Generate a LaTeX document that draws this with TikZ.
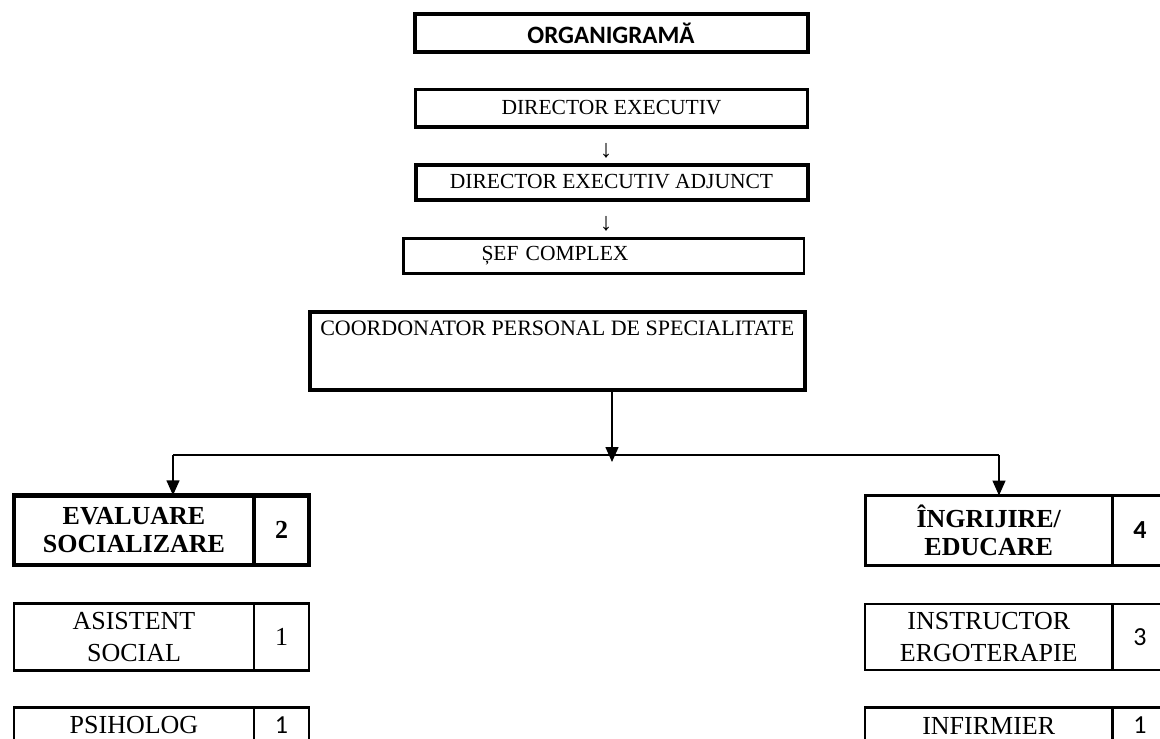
\documentclass[tikz,border=0pt]{standalone}
\usepackage{fontspec}
\setmainfont{Liberation Serif}
\newfontfamily\calibri{Carlito}
\usepackage{tikz}
\usetikzlibrary{arrows.meta}

\begin{document}
\begin{tikzpicture}[x=1pt,y=-1pt,
  box/.style={draw,rectangle,outer sep=0pt,inner sep=0pt,align=center},
  topbox/.style={box,font=\fontsize{21.5}{26}\selectfont},
  unitbox/.style={box,line width=2.5pt,font=\fontsize{26}{32}\selectfont},
  headbox/.style={unitbox,font=\bfseries\fontsize{26}{27.5}\selectfont},
  numbox/.style={unitbox,minimum width=55pt,anchor=west},
  sansnum/.style={font=\calibri\fontsize{26}{32}\selectfont},
  down/.style={font=\fontsize{25}{26}\selectfont},
  link/.style={line width=1.5pt,-{Triangle[width=13pt,length=15pt]}}]
\useasboundingbox (0,0) rectangle (1160,739);

% top of the chart
\node[topbox,line width=4pt,minimum width=393pt,minimum height=37.5pt,font=\calibri\bfseries\fontsize{25}{28}\selectfont] (org) at (611,33) {ORGANIGRAMĂ};
\node[topbox,line width=3.5pt,minimum width=392pt,minimum height=37.5pt] (dir) at (611.5,108) {DIRECTOR EXECUTIV};
\node[down] (down1) at (606,151) {↓};
\node[topbox,line width=4pt,minimum width=392pt,minimum height=35pt] (adj) at (611.5,182) {DIRECTOR EXECUTIV ADJUNCT};
\node[down] (down2) at (606,224) {↓};
\node[topbox,line width=2.5pt,minimum width=400.5pt,minimum height=35pt,text width=400.5pt,align=left] (sef) at (603.75,256) {\hspace*{78pt}ȘEF COMPLEX};
\node[topbox,line width=4pt,minimum width=495.5pt,text height=23pt,text depth=54.5pt,anchor=north,font=\fontsize{22}{26}\selectfont] (coord) at (557.25,312) {COORDONATOR PERSONAL DE SPECIALITATE};

% left column
\node[headbox,line width=4.5pt,minimum width=240pt,minimum height=69.5pt] (eval) at (134,530) {EVALUARE\\SOCIALIZARE};
\node[numbox,line width=4.5pt,minimum height=69.5pt,font=\bfseries\fontsize{26}{32}\selectfont] (evaln) at (eval.east) {2};
\node[unitbox,minimum width=240pt,minimum height=67pt] (asist) at (134,637) {ASISTENT\\SOCIAL};
\node[numbox,minimum height=67pt] (asistn) at (asist.east) {1};
\node[unitbox,minimum width=240pt,minimum height=36pt] (psih) at (134,725.5) {PSIHOLOG};
\node[numbox,sansnum,minimum height=36pt] (psihn) at (psih.east) {1};

% right column
\node[headbox,line width=3pt,minimum width=247.5pt,minimum height=70pt] (ingr) at (988.75,530.5) {ÎNGRIJIRE/\\EDUCARE};
\node[numbox,line width=3pt,minimum height=70pt,font=\calibri\bfseries\fontsize{26}{32}\selectfont] (ingrn) at (ingr.east) {4};
\node[unitbox,minimum width=247.5pt,minimum height=66pt] (instr) at (988.75,637) {INSTRUCTOR\\ERGOTERAPIE};
\node[numbox,sansnum,minimum height=66pt] (instrn) at (instr.east) {3};
\node[unitbox,minimum width=247.5pt,minimum height=36pt] (infirm) at (988.75,725.5) {INFIRMIER};
\node[numbox,sansnum,minimum height=36pt] (infirmn) at (infirm.east) {1};

% connectors
\coordinate (busl) at (173,455);
\coordinate (busr) at (999,455);
\coordinate (hub) at (612,462);
\draw[line width=1.5pt] (busl) -- (busr);
\draw[link] (hub |- coord.south) -- (hub);
\draw[link] (busl) -- (busl |- eval.north);
\draw[link] (busr) -- (busr |- ingr.north);
\end{tikzpicture}
\end{document}
